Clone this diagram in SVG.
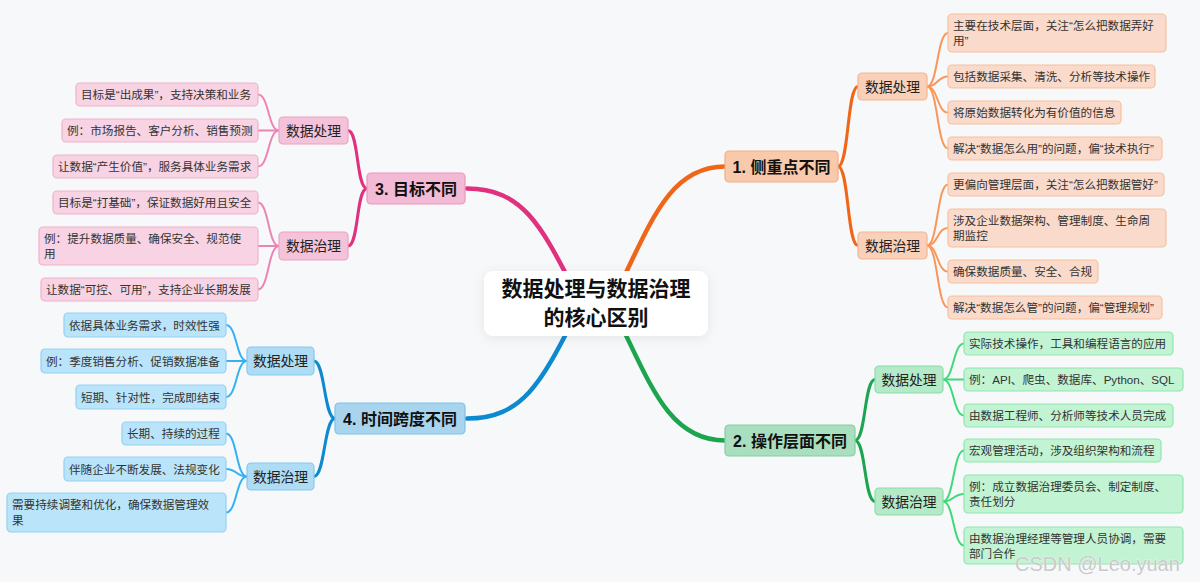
<svg xmlns="http://www.w3.org/2000/svg" width="1200" height="582" viewBox="0 0 1200 582">
<defs>
<filter id="sh" x="-20%" y="-40%" width="140%" height="180%"><feDropShadow dx="0" dy="2" stdDeviation="6" flood-color="#000" flood-opacity="0.08"/></filter>
<style>
text{font-family:"Liberation Sans","Noto Sans CJK SC",sans-serif;fill:#222}
.title{font-size:21px;font-weight:bold;text-anchor:middle;fill:#111}
.main{font-size:16px;font-weight:bold;text-anchor:middle;fill:#111}
.sub{font-size:13.8px;text-anchor:middle;fill:#222}
.leaf{font-size:11.6px;fill:#333}
.c{fill:none;stroke-linecap:round}
.m{stroke-width:4.5}
.s{stroke-width:3}
.l{stroke-width:2}
.oM{fill:#F8C9AB;stroke:#F3AE84;stroke-width:1.2}
.oS{fill:#F9D1BA;stroke:#F5B58E;stroke-width:1.2}
.oL{fill:#FADACA;stroke:#F8C09E;stroke-width:1.2}
.gM{fill:#A9DEBF;stroke:#86CDA2;stroke-width:1.2}
.gS{fill:#B4EAC8;stroke:#8ADCA9;stroke-width:1.2}
.gL{fill:#C2F3D3;stroke:#8FE6AF;stroke-width:1.2}
.pM{fill:#F2BAD4;stroke:#EA96BC;stroke-width:1.2}
.pS{fill:#F4C3DA;stroke:#EDA2C4;stroke-width:1.2}
.pL{fill:#F7D3E3;stroke:#F1B2CE;stroke-width:1.2}
.bM{fill:#A8D4EE;stroke:#80C1E7;stroke-width:1.2}
.bS{fill:#AEDCF5;stroke:#86C9EF;stroke-width:1.2}
.bL{fill:#BAE4F9;stroke:#93D1F3;stroke-width:1.2}
</style>
</defs>
<rect width="1200" height="582" fill="#F7F8FA"/>

<g id="connectors">
<!-- main -->
<path class="c m" stroke="#F06619" d="M610 305 C648 232 665 166.5 725 166.5"/>
<path class="c m" stroke="#1CA54E" d="M610 303 C648 376 665 440.5 725 440.5"/>
<path class="c m" stroke="#E0317E" d="M582 305 C544 232 527 188.5 467 188.5"/>
<path class="c m" stroke="#0C8ACF" d="M582 303 C544 376 527 418.5 467 418.5"/>
<!-- orange -->
<path class="c s" stroke="#F06619" d="M838 166.5 C849 166.5 847 86.5 858 86.5"/>
<path class="c s" stroke="#F06619" d="M838 166.5 C849 166.5 847 245.5 858 245.5"/>
<g class="c l" stroke="#F9975B">
<path d="M927 86.5 C938 86.5 937 33 948 33"/>
<path d="M927 86.5 C938 86.5 937 76.5 948 76.5"/>
<path d="M927 86.5 C938 86.5 937 112.5 948 112.5"/>
<path d="M927 86.5 C938 86.5 937 148.5 948 148.5"/>
<path d="M927 245.5 C938 245.5 937 184.5 948 184.5"/>
<path d="M927 245.5 C938 245.5 937 228 948 228"/>
<path d="M927 245.5 C938 245.5 937 271.5 948 271.5"/>
<path d="M927 245.5 C938 245.5 937 307.5 948 307.5"/>
</g>
<!-- green -->
<path class="c s" stroke="#1CA54E" d="M855 440.5 C866 440.5 864 379.5 875 379.5"/>
<path class="c s" stroke="#1CA54E" d="M855 440.5 C866 440.5 864 501.5 875 501.5"/>
<g class="c l" stroke="#3FD97B">
<path d="M943 379.5 C954 379.5 953 343.5 964 343.5"/>
<path d="M943 379.5 C954 379.5 953 379.5 964 379.5"/>
<path d="M943 379.5 C954 379.5 953 415.5 964 415.5"/>
<path d="M943 501.5 C954 501.5 953 450.5 964 450.5"/>
<path d="M943 501.5 C954 501.5 953 494 964 494"/>
<path d="M943 501.5 C954 501.5 953 545.5 964 545.5"/>
</g>
<!-- pink -->
<path class="c s" stroke="#E0317E" d="M367 188.5 C356 188.5 359 130.5 348 130.5"/>
<path class="c s" stroke="#E0317E" d="M367 188.5 C356 188.5 359 246 348 246"/>
<g class="c l" stroke="#EE84B4">
<path d="M279 130.5 C268 130.5 269 94.5 258 94.5"/>
<path d="M279 130.5 C268 130.5 269 130.5 258 130.5"/>
<path d="M279 130.5 C268 130.5 269 166.5 258 166.5"/>
<path d="M279 246 C268 246 269 202.5 258 202.5"/>
<path d="M279 246 C268 246 269 246 258 246"/>
<path d="M279 246 C268 246 269 289.5 258 289.5"/>
</g>
<!-- blue -->
<path class="c s" stroke="#0C8ACF" d="M335 418.5 C324 418.5 325 361 314 361"/>
<path class="c s" stroke="#0C8ACF" d="M335 418.5 C324 418.5 325 476.5 314 476.5"/>
<g class="c l" stroke="#33B1F2">
<path d="M247 361 C236 361 237 325 226 325"/>
<path d="M247 361 C236 361 237 361 226 361"/>
<path d="M247 361 C236 361 237 397 226 397"/>
<path d="M247 476.5 C236 476.5 237 433.5 226 433.5"/>
<path d="M247 476.5 C236 476.5 237 469 226 469"/>
<path d="M247 476.5 C236 476.5 237 512.5 226 512.5"/>
</g>
</g>

<g id="center">
<rect x="484" y="271" width="224" height="65" rx="9" fill="#fff" filter="url(#sh)"/>
<text class="title" x="596" y="296">数据处理与数据治理</text>
<text class="title" x="596" y="325">的核心区别</text>
</g>

<!-- Orange branch -->
<g id="n1"><rect class="oM" x="725" y="151" width="113" height="31" rx="4"/><text class="main" x="781.5" y="172.5">1. 侧重点不同</text></g>
<g id="n1a"><rect class="oS" x="858" y="73" width="69" height="27" rx="4"/><text class="sub" x="892.5" y="91.5">数据处理</text></g>
<g id="n1b"><rect class="oS" x="858" y="232" width="69" height="27" rx="4"/><text class="sub" x="892.5" y="250.5">数据治理</text></g>
<g id="n1a1"><rect class="oL" x="948" y="14" width="218" height="38" rx="4"/><text class="leaf" x="953" y="29.5">主要在技术层面，关注“怎么把数据弄好</text><text class="leaf" x="953" y="45">用”</text></g>
<g id="n1a2"><rect class="oL" x="948" y="65" width="207" height="23" rx="4"/><text class="leaf" x="953" y="81">包括数据采集、清洗、分析等技术操作</text></g>
<g id="n1a3"><rect class="oL" x="948" y="101" width="173" height="23" rx="4"/><text class="leaf" x="953" y="117">将原始数据转化为有价值的信息</text></g>
<g id="n1a4"><rect class="oL" x="948" y="137" width="214" height="23" rx="4"/><text class="leaf" x="953" y="153">解决“数据怎么用”的问题，偏“技术执行”</text></g>
<g id="n1b1"><rect class="oL" x="948" y="173" width="216" height="23" rx="4"/><text class="leaf" x="953" y="189">更偏向管理层面，关注“怎么把数据管好”</text></g>
<g id="n1b2"><rect class="oL" x="948" y="209" width="218" height="38" rx="4"/><text class="leaf" x="953" y="224.5">涉及企业数据架构、管理制度、生命周</text><text class="leaf" x="953" y="240">期监控</text></g>
<g id="n1b3"><rect class="oL" x="948" y="260" width="150" height="23" rx="4"/><text class="leaf" x="953" y="276">确保数据质量、安全、合规</text></g>
<g id="n1b4"><rect class="oL" x="948" y="296" width="214" height="23" rx="4"/><text class="leaf" x="953" y="312">解决“数据怎么管”的问题，偏“管理规划”</text></g>

<!-- Green branch -->
<g id="n2"><rect class="gM" x="725" y="425" width="130" height="31" rx="4"/><text class="main" x="790" y="446.5">2. 操作层面不同</text></g>
<g id="n2a"><rect class="gS" x="875" y="366" width="68" height="27" rx="4"/><text class="sub" x="909" y="384.5">数据处理</text></g>
<g id="n2b"><rect class="gS" x="875" y="488" width="68" height="27" rx="4"/><text class="sub" x="909" y="506.5">数据治理</text></g>
<g id="n2a1"><rect class="gL" x="964" y="332" width="209" height="23" rx="4"/><text class="leaf" x="969" y="348">实际技术操作，工具和编程语言的应用</text></g>
<g id="n2a2"><rect class="gL" x="964" y="368" width="219" height="23" rx="4"/><text class="leaf" x="969" y="384">例：API、爬虫、数据库、Python、SQL</text></g>
<g id="n2a3"><rect class="gL" x="964" y="404" width="209" height="23" rx="4"/><text class="leaf" x="969" y="420">由数据工程师、分析师等技术人员完成</text></g>
<g id="n2b1"><rect class="gL" x="964" y="439" width="197" height="23" rx="4"/><text class="leaf" x="969" y="455">宏观管理活动，涉及组织架构和流程</text></g>
<g id="n2b2"><rect class="gL" x="964" y="475" width="219" height="38" rx="4"/><text class="leaf" x="969" y="490.5">例：成立数据治理委员会、制定制度、</text><text class="leaf" x="969" y="506">责任划分</text></g>
<g id="n2b3"><rect class="gL" x="964" y="527" width="219" height="37" rx="4"/><text class="leaf" x="969" y="542.5">由数据治理经理等管理人员协调，需要</text><text class="leaf" x="969" y="558">部门合作</text></g>

<!-- Pink branch -->
<g id="n3"><rect class="pM" x="367" y="173" width="98" height="31" rx="4"/><text class="main" x="416" y="194.5">3. 目标不同</text></g>
<g id="n3a"><rect class="pS" x="279" y="117" width="69" height="27" rx="4"/><text class="sub" x="313.5" y="135.5">数据处理</text></g>
<g id="n3b"><rect class="pS" x="279" y="232" width="69" height="28" rx="4"/><text class="sub" x="313.5" y="251">数据治理</text></g>
<g id="n3a1"><rect class="pL" x="76" y="83" width="182" height="23" rx="4"/><text class="leaf" x="81" y="99">目标是“出成果”，支持决策和业务</text></g>
<g id="n3a2"><rect class="pL" x="62" y="119" width="196" height="23" rx="4"/><text class="leaf" x="67" y="135">例：市场报告、客户分析、销售预测</text></g>
<g id="n3a3"><rect class="pL" x="53" y="155" width="205" height="23" rx="4"/><text class="leaf" x="58" y="171">让数据“产生价值”，服务具体业务需求</text></g>
<g id="n3b1"><rect class="pL" x="53" y="191" width="205" height="23" rx="4"/><text class="leaf" x="58" y="207">目标是“打基础”，保证数据好用且安全</text></g>
<g id="n3b2"><rect class="pL" x="39" y="227" width="219" height="38" rx="4"/><text class="leaf" x="44" y="242.5">例：提升数据质量、确保安全、规范使</text><text class="leaf" x="44" y="258">用</text></g>
<g id="n3b3"><rect class="pL" x="41" y="278" width="217" height="23" rx="4"/><text class="leaf" x="46" y="294">让数据“可控、可用”，支持企业长期发展</text></g>

<!-- Blue branch -->
<g id="n4"><rect class="bM" x="335" y="403" width="130" height="31" rx="4"/><text class="main" x="400" y="424.5">4. 时间跨度不同</text></g>
<g id="n4a"><rect class="bS" x="247" y="347" width="67" height="28" rx="4"/><text class="sub" x="280.5" y="366">数据处理</text></g>
<g id="n4b"><rect class="bS" x="247" y="463" width="67" height="27" rx="4"/><text class="sub" x="280.5" y="481.5">数据治理</text></g>
<g id="n4a1"><rect class="bL" x="64" y="313" width="162" height="24" rx="4"/><text class="leaf" x="69" y="329.5">依据具体业务需求，时效性强</text></g>
<g id="n4a2"><rect class="bL" x="41" y="349" width="185" height="24" rx="4"/><text class="leaf" x="46" y="365.5">例：季度销售分析、促销数据准备</text></g>
<g id="n4a3"><rect class="bL" x="76" y="385" width="150" height="24" rx="4"/><text class="leaf" x="81" y="401.5">短期、针对性，完成即结束</text></g>
<g id="n4b1"><rect class="bL" x="122" y="422" width="104" height="23" rx="4"/><text class="leaf" x="127" y="438">长期、持续的过程</text></g>
<g id="n4b2"><rect class="bL" x="64" y="457" width="162" height="24" rx="4"/><text class="leaf" x="69" y="473.5">伴随企业不断发展、法规变化</text></g>
<g id="n4b3"><rect class="bL" x="7" y="493" width="219" height="39" rx="4"/><text class="leaf" x="12" y="509">需要持续调整和优化，确保数据管理效</text><text class="leaf" x="12" y="524.5">果</text></g>

<text x="1015" y="571" style="font-family:'Liberation Sans',sans-serif;font-size:20px;fill:#c9c9c9;stroke:#ffffff;stroke-width:0.6;paint-order:stroke">CSDN @Leo.yuan</text>
</svg>
